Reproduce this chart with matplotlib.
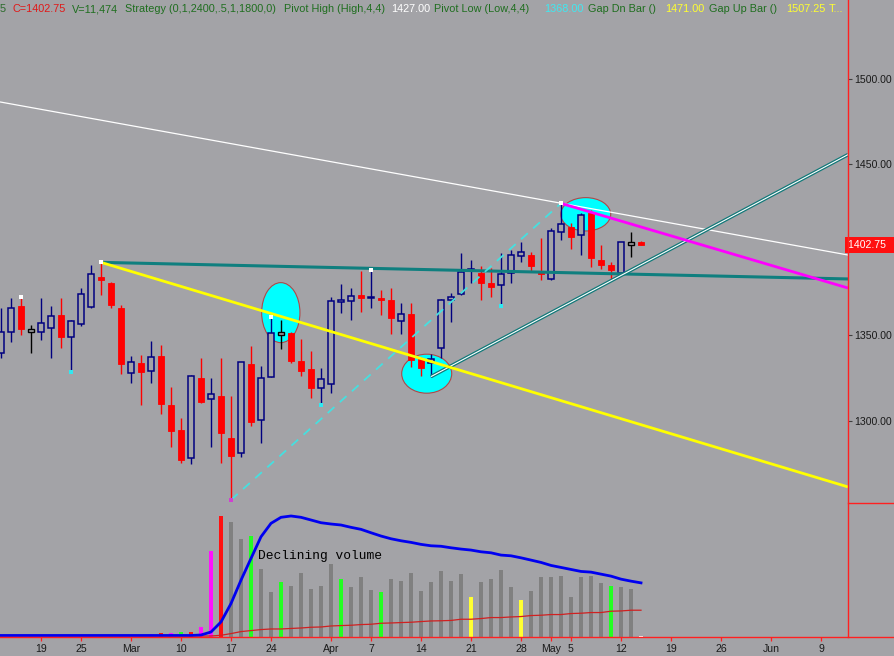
import matplotlib
matplotlib.use('Agg')
import matplotlib.pyplot as plt
from matplotlib.patches import Rectangle, Ellipse
from matplotlib.lines import Line2D

plt.rcParams['font.family'] = ['Liberation Sans', 'DejaVu Sans']

W, H = 895, 656
BG = '#a3a3a7'

# ---------------- data ----------------
dates = ['Feb 12', 'Feb 13', 'Feb 14', 'Feb 15', 'Feb 19', 'Feb 20', 'Feb 21', 'Feb 22',
         'Feb 25', 'Feb 26', 'Feb 27', 'Feb 28', 'Feb 29', 'Mar 3', 'Mar 4', 'Mar 5', 'Mar 6',
         'Mar 7', 'Mar 10', 'Mar 11', 'Mar 12', 'Mar 13', 'Mar 14', 'Mar 17', 'Mar 18',
         'Mar 19', 'Mar 20', 'Mar 24', 'Mar 25', 'Mar 26', 'Mar 27', 'Mar 28', 'Mar 31',
         'Apr 1', 'Apr 2', 'Apr 3', 'Apr 4', 'Apr 7', 'Apr 8', 'Apr 9', 'Apr 10', 'Apr 11',
         'Apr 14', 'Apr 15', 'Apr 16', 'Apr 17', 'Apr 18', 'Apr 21', 'Apr 22', 'Apr 23',
         'Apr 24', 'Apr 25', 'Apr 28', 'Apr 29', 'Apr 30', 'May 1', 'May 2', 'May 5', 'May 6',
         'May 7', 'May 8', 'May 9', 'May 12', 'May 13', 'May 14']
first_index = -4  # bar index of first date (Feb 19 = 0)

opens = [1339.3, 1351.6, 1367.0, 1352.5, 1352.0, 1354.0, 1361.7, 1348.7, 1356.3, 1366.6,
         1384.0, 1380.6, 1365.7, 1327.7, 1333.5, 1329.2, 1337.8, 1309.1, 1294.5, 1278.0,
         1325.1, 1312.5, 1314.4, 1289.7, 1281.2, 1332.9, 1300.4, 1325.7, 1351.0, 1351.0,
         1335.0, 1330.2, 1318.9, 1321.2, 1369.5, 1370.0, 1373.4, 1371.75, 1371.5, 1370.5,
         1358.4, 1362.1, 1335.8, 1333.5, 1342.3, 1370.5, 1373.8, 1388.25, 1386.1, 1380.6,
         1379.3, 1386.1, 1396.4, 1396.8, 1387.0, 1382.6, 1410.4, 1413.0, 1408.5, 1421.2,
         1393.9, 1391.0, 1386.1, 1403.5, 1404.5]
highs = [1365.8, 1371.9, 1372.4, 1355.9, 1371.5, 1367.0, 1371.9, 1358.6, 1377.7, 1391.0,
         1392.5, 1381.0, 1367.6, 1338.0, 1338.4, 1346.7, 1344.2, 1319.8, 1301.4, 1326.5,
         1336.4, 1324.7, 1336.4, 1314.4, 1334.5, 1343.6, 1332.1, 1360.7, 1358.8, 1351.5,
         1347.5, 1340.7, 1330.6, 1372.4, 1379.7, 1377.7, 1387.5, 1388.0, 1376.4, 1377.3,
         1368.6, 1368.6, 1337.4, 1338.8, 1370.8, 1374.8, 1397.8, 1393.9, 1390.4, 1389.0,
         1398.2, 1399.7, 1404.6, 1398.7, 1406.6, 1412.4, 1427.0, 1415.4, 1421.2, 1423.1,
         1402.7, 1392.9, 1404.5, 1410.4, 1404.75]
lows = [1336.6, 1345.8, 1350.0, 1339.3, 1347.1, 1336.4, 1342.3, 1328.6, 1355.0, 1366.0,
        1373.4, 1365.7, 1327.1, 1321.8, 1309.1, 1322.2, 1303.9, 1284.4, 1275.0, 1274.5,
        1310.1, 1284.4, 1275.4, 1253.6, 1278.9, 1296.9, 1286.8, 1325.2, 1341.9, 1333.9,
        1326.3, 1313.4, 1309.1, 1316.0, 1362.7, 1358.8, 1363.7, 1365.7, 1361.7, 1350.5,
        1350.5, 1331.5, 1326.3, 1325.7, 1336.4, 1357.8, 1373.5, 1380.3, 1370.5, 1372.0,
        1367.2, 1380.3, 1392.9, 1387.0, 1382.2, 1382.2, 1405.6, 1400.1, 1396.8, 1390.0,
        1388.6, 1382.2, 1385.1, 1395.8, 1402.5]
closes = [1352.0, 1365.7, 1353.6, 1352.5, 1357.2, 1361.3, 1349.1, 1358.2, 1373.8, 1385.7,
          1382.2, 1367.6, 1332.9, 1334.1, 1328.6, 1337.4, 1309.7, 1294.1, 1277.0, 1326.1,
          1311.1, 1315.6, 1292.9, 1279.5, 1334.1, 1299.4, 1324.7, 1351.0, 1351.0, 1335.0,
          1329.2, 1318.9, 1324.2, 1370.1, 1370.5, 1373.0, 1371.5, 1372.25, 1370.5, 1359.8,
          1362.1, 1335.4, 1331.0, 1335.8, 1370.5, 1372.4, 1387.1, 1388.75, 1380.3, 1377.9,
          1385.7, 1396.8, 1398.4, 1390.6, 1385.7, 1410.8, 1414.8, 1407.5, 1420.2, 1394.9,
          1391.0, 1388.0, 1404.2, 1403.5, 1402.75]

# volume (thousands of contracts)
volume = [25, 25, 25, 25, 25, 25, 25, 25, 30, 42, 30, 38, 30, 45, 38, 68, 100, 100, 118, 118,
          243, 2143, 3025, 2860, 2443, 2525, 1693, 1110, 1360, 1268, 1600, 1193, 1268, 1818,
          1443, 1235, 1493, 1168, 1110, 1443, 1393, 1600, 1150, 1368, 1643, 1393, 1568, 993,
          1360, 1443, 1668, 1235, 918, 1143, 1493, 1493, 1518, 993, 1493, 1518, 1343, 1260,
          1235, 1193, 11.474]
vol_colors = (['gray'] * 9 +
              ['magenta', 'gray', 'green', 'gray', 'green', 'gray', 'magenta', 'red',
               'magenta', 'green', 'red', 'magenta',                      # i = 5 .. 16
               'magenta', 'red', 'gray', 'gray', 'green', 'gray', 'gray',  # i = 17 .. 23
               'green', 'gray', 'gray', 'gray', 'gray', 'gray',            # i = 24 .. 29
               'green', 'gray', 'gray', 'gray', 'green',                   # i = 30 .. 34
               'gray', 'gray', 'gray', 'gray', 'gray', 'gray', 'gray', 'gray',  # i = 35 .. 42
               'yellow', 'gray', 'gray', 'gray', 'gray',                   # i = 43 .. 47
               'yellow', 'gray', 'gray', 'gray', 'gray', 'gray', 'gray', 'gray', 'gray',  # 48..56
               'green', 'gray', 'gray', 'white'])                          # i = 57 .. 60
vol_avg_fast = [38] * 20 + [50, 125, 375, 835, 1418, 1960, 2500, 2835, 2985, 3018, 2985, 2918,
                2850, 2818, 2793, 2735, 2685, 2600, 2518, 2450, 2400, 2360, 2310, 2275, 2263,
                2225, 2193, 2168, 2125, 2100, 2043, 2025, 1975, 1918, 1860, 1785, 1735, 1685,
                1635, 1618, 1568, 1518, 1443, 1393, 1350]
vol_avg_slow = [25] * 22 + [43, 85, 135, 160, 185, 200, 200, 213, 225, 243, 250, 275, 285, 293,
                310, 318, 343, 350, 360, 368, 385, 400, 405, 413, 443, 443, 460, 485, 485, 500,
                510, 535, 543, 560, 560, 585, 593, 610, 610, 643, 650, 668, 668]

# date axis labels (bar index, label)
tick_pos = [0, 4, 9, 14, 19, 23, 29, 33, 38, 43, 48, 51, 53, 58, 63, 68, 73, 78]
tick_labels = ['19', '25', 'Mar', '10', '17', '24', 'Apr', '7', '14', '21', '28', 'May', '5',
               '12', '19', '26', 'Jun', '9']
price_ticks = [1300, 1350, 1450, 1500]
last_price = 1402.75

# drawing tool anchors (bar index, price)
white_line = [(-4.1, 1486.3), (80.7, 1396.8)]
teal_line = [(6, 1392.5), (80.7, 1382.8)]
yellow_line = [(6, 1392.5), (80.7, 1261.2)]
magenta_line = [(52, 1427.0), (80.7, 1377.5)]
cyan_dash_line = [(19, 1253.6), (52, 1427.0)]
up_line = [(39, 1325.7), (80.7, 1455.5)]
ellipses = [((23.98, 1363.1), 3.83, 35.1), ((38.57, 1327.4), 5.0, 22.8), ((54.47, 1420.6), 5.0, 19.5)]
pivot_highs = [-2, 6, 23, 33, 52]
pivot_lows = [3, 28, 46]

header = [('5', 0, '#2a6a2a'), ('C=1402.75', 13, '#e01818'), ('V=11,474', 72, '#1f6e1f'),
          ('Strategy (0,1,2400,.5,1,1800,0)', 125, '#1f6e1f'),
          ('Pivot High (High,4,4)', 284, '#1f6e1f'), ('1427.00', 391, '#ffffff'),
          ('Pivot Low (Low,4,4)', 434, '#1f6e1f'), ('1368.00', 544, '#40e8f0'),
          ('Gap Dn Bar ()', 588, '#1f6e1f'), ('1471.00', 665, '#ffff30'),
          ('Gap Up Bar ()', 709, '#1f6e1f'), ('1507.25', 786, '#ffff30'), ('T...', 829, '#ffff30')]

# ---------------- figure ----------------
fig = plt.figure(figsize=(W / 100, H / 100), dpi=100)
fig.patch.set_facecolor(BG)

x_right = 848
ax = fig.add_axes([0, (H - 503) / H, x_right / W, 503 / H])
axv = fig.add_axes([0, (H - 637) / H, x_right / W, (637 - 503) / H])
for a in (ax, axv):
    a.set_facecolor(BG)
    a.set_xlim(-4.1, 80.7)
    for s in a.spines.values():
        s.set_visible(False)

ax.set_ylim(1251.8, 1545.9)
axv.set_ylim(0, 3342)

idx = [first_index + k for k in range(len(dates))]
bw = 0.66
px_pt = 0.5846  # price points per pixel

for x, o, h, l, c in zip(idx, opens, highs, lows, closes):
    if c > o:
        col = '#000080'
    elif c < o:
        col = '#ff0000'
    else:
        col = '#000000'
    ax.vlines(x, l, h, color=col, lw=1.0, zorder=3)
    if c > o:
        ax.add_patch(Rectangle((x - bw / 2, o), bw, max(c - o, 0.3), facecolor=BG,
                               edgecolor=col, lw=1.1, zorder=3.5))
    elif c < o:
        ax.add_patch(Rectangle((x - bw / 2, c), bw, o - c, facecolor=col,
                               edgecolor=col, lw=0.6, zorder=3.5))
    else:
        ax.add_patch(Rectangle((x - bw / 2, c - 1.5 * px_pt), bw, 3 * px_pt, facecolor=BG,
                               edgecolor=col, lw=1.0, zorder=3.5))

for (cx, cy), ew, eh in ellipses:
    ax.add_patch(Ellipse((cx, cy), ew, eh, facecolor='#00ffff', edgecolor='#b04848',
                         lw=0.8, zorder=1))

def seg(pts, **kw):
    ax.plot([p[0] for p in pts], [p[1] for p in pts], solid_capstyle='butt', **kw)

seg(white_line, color='#ffffff', lw=0.9, zorder=4)
seg(teal_line, color='#0f7f7f', lw=2.2, zorder=4)
seg(yellow_line, color='#ffff00', lw=2.0, zorder=4.2)
seg(magenta_line, color='#ff00ff', lw=2.0, zorder=4.2)
seg(cyan_dash_line, color='#45e0e0', lw=1.3, dashes=(5, 4), zorder=4)
seg(up_line, color='#117878', lw=2.6, zorder=4)
seg(up_line, color='#ffffff', lw=0.8, zorder=4.1)

ax.scatter([i for i in pivot_highs], [highs[i - first_index] for i in pivot_highs],
           marker='s', s=7, color='white', zorder=5, linewidths=0)
ax.scatter([i for i in pivot_lows], [lows[i - first_index] for i in pivot_lows],
           marker='s', s=7, color='#30e8f0', zorder=5, linewidths=0)
ax.scatter([19], [lows[19 - first_index]], marker='s', s=5, color='#d040d0', zorder=5,
           linewidths=0)

# price scale
ax.yaxis.tick_right()
ax.set_yticks(price_ticks)
ax.set_yticklabels(['%.2f' % v for v in price_ticks])
ax.tick_params(axis='y', right=True, left=False, labelright=True, labelleft=False,
               length=3.2, width=0.8, color='#404040', pad=1.2, labelsize=7.6,
               labelcolor='#1a1a1a')
ax.set_xticks([])
ax.text(1.0, last_price, '%.2f  ' % last_price, transform=ax.get_yaxis_transform(),
        ha='left', va='center', color='white', fontsize=7.6,
        bbox=dict(boxstyle='square,pad=0.28', facecolor='#ff1010', edgecolor='none'))

# volume panel
cmap = {'gray': '#808080', 'magenta': '#ff10ff', 'red': '#ff1010', 'green': '#22ff22',
        'yellow': '#ffff30', 'white': '#ffffff'}
axv.bar(idx, [max(v, 30) for v in volume], width=0.32, color=[cmap[c] for c in vol_colors],
        zorder=2)
axv.plot(idx, vol_avg_slow, color='#d02020', lw=0.9, zorder=3)
axv.plot(idx, vol_avg_fast, color='#0000f0', lw=2.0, zorder=4)
axv.text(21.7, 2030, 'Declining volume', family=['Liberation Mono', 'DejaVu Sans Mono'],
         fontsize=9.3, color='black', va='center', ha='left', zorder=5)
axv.set_yticks([])
axv.set_xticks(tick_pos)
axv.set_xticklabels(tick_labels)
axv.tick_params(axis='x', direction='out', length=3.2, width=0.9, color='#ff2020',
                labelsize=7.6, labelcolor='#1a1a1a', pad=1.6)

# frame lines
fig.add_artist(Line2D([0, 1], [(H - 637) / H] * 2, color='#ff2020', lw=1.0))
fig.add_artist(Line2D([x_right / W] * 2, [(H - 637) / H, 1], color='#ff2020', lw=1.0))
fig.add_artist(Line2D([x_right / W, 1], [(H - 503) / H] * 2, color='#ff2020', lw=1.0))

for txt, xp, col in header:
    fig.text(xp / W, 1 - 9 / H, txt, color=col, fontsize=7.8, ha='left', va='center')

fig.savefig('out.png', dpi=100, facecolor=BG)
